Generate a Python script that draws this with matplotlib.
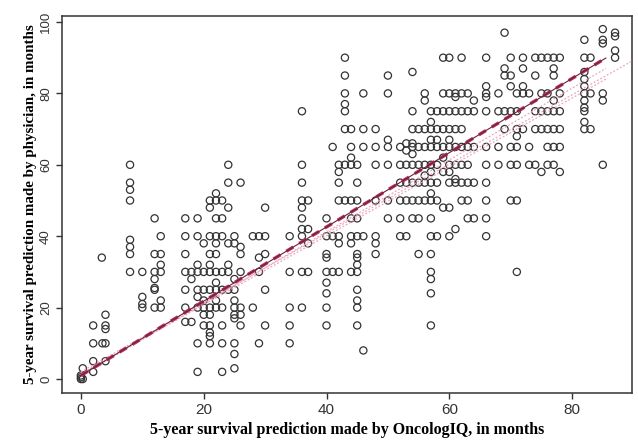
import matplotlib
matplotlib.use("Agg")
import matplotlib.pyplot as plt
import numpy as np

# OncologIQ prediction (x) vs physician prediction (y)
points = [
    (0, 0), (0, 0.5), (0, 1), (0.3, 3), (0.3, 0), (2, 2), (2, 5), (2, 10), (2, 15),
    (3.5, 10), (4, 10), (4, 14), (4, 15), (4, 18), (4, 5), (3.4, 34),
    (8, 60), (8, 55), (8, 53), (8, 50), (8, 39), (8, 37), (8, 35), (8, 30),
    (10, 30), (10, 23), (10, 21), (10, 20),
    (12, 45), (12, 35), (12, 30), (12, 28), (12, 25.5), (12, 25), (12, 20),
    (13, 40), (13, 35), (13, 32), (13, 30), (13, 20), (13, 22),
    (17, 45), (17, 40), (17, 35), (17, 30), (17, 25), (17, 20), (17, 16),
    (18, 28), (18, 16), (18, 30),
    (19, 45), (19, 40), (19, 32), (19, 30), (19, 25), (19, 23), (19, 20), (19, 10), (19, 2),
    (20, 38), (20, 30), (20, 25), (20, 22), (20, 20), (20, 18), (20, 15),
    (21, 50), (21, 48), (21, 40), (21, 35), (21, 32), (21, 30), (21, 25), (21, 20),
    (21, 18), (21, 15), (21, 13), (21, 12), (21, 10),
    (22, 52), (22, 50), (22, 45), (22, 40), (22, 38), (22, 35), (22, 30), (22, 27),
    (22, 25), (22, 22), (22, 20),
    (23, 50), (23, 45), (23, 40), (23, 30), (23, 25), (23, 20), (23, 15), (23, 10), (23, 2),
    (24, 60), (24, 55), (24, 48), (24, 38), (24, 32), (24, 30), (24, 25),
    (25, 40), (25, 38), (25, 28), (25, 25), (25, 22), (25, 20), (25, 18), (25, 17),
    (25, 10), (25, 7), (25, 3),
    (26, 55), (26, 37), (26, 35), (26, 30), (26, 20), (26, 18), (26, 15),
    (28, 40), (28, 20), (29, 40), (29, 34), (29, 30), (29, 10),
    (30, 40), (30, 48), (30, 35), (30, 25), (30, 15),
    (34, 40), (34, 30), (34, 20), (34, 15), (34, 10),
    (36, 75), (36, 60), (36, 55), (36, 48), (36, 45), (36, 42), (36, 40), (36, 30),
    (36, 20), (36, 50),
    (37, 50), (37, 42), (37, 30), (37, 38),
    (40, 45), (40, 40), (40, 35), (40, 34), (40, 30), (40, 24), (40, 20), (40, 15), (40, 27),
    (41, 65), (41, 40), (41, 30),
    (42, 60), (42, 58), (42, 55), (42, 50), (42, 40), (42, 38), (42, 30),
    (43, 90), (43, 85), (43, 80), (43, 77), (43, 75), (43, 70), (43, 60), (43, 50),
    (44, 70), (44, 65), (44, 62), (44, 60), (44, 50), (44, 40), (44, 38), (44, 30), (44, 45),
    (45, 60), (45, 55), (45, 50), (45, 45), (45, 40), (45, 35), (45, 34), (45, 30),
    (45, 25), (45, 22), (45, 15), (45, 32), (45, 20),
    (46, 80), (46, 70), (46, 8), (46, 65), (46, 40),
    (48, 70), (48, 65), (48, 50), (48, 40), (48, 38), (48, 35), (48, 60),
    (50, 85), (50, 80), (50, 67), (50, 65), (50, 60), (50, 50), (50, 45),
    (52, 60), (52, 55), (52, 50), (52, 45), (52, 40), (52, 65),
    (53, 64), (53, 60), (53, 55), (53, 50), (53, 40), (53, 66),
    (54, 86), (54, 75), (54, 70), (54, 66), (54, 65), (54, 63), (54, 60), (54, 55),
    (54, 50), (54, 45),
    (55, 60), (55, 55), (55, 50), (55, 45), (55, 35), (55, 65), (55, 70),
    (56, 80), (56, 78), (56, 70), (56, 65), (56, 60), (56, 57), (56, 55), (56, 50),
    (57, 75), (57, 72), (57, 70), (57, 67), (57, 65), (57, 60), (57, 58), (57, 55),
    (57, 52), (57, 50), (57, 45), (57, 40), (57, 35), (57, 30), (57, 28), (57, 24), (57, 15),
    (58, 75), (58, 70), (58, 67), (58, 60), (58, 55), (58, 50), (58, 40), (58, 65),
    (59, 80), (59, 70), (59, 62), (59, 58), (59, 48), (59, 90), (59, 75), (59, 65),
    (60, 90), (60, 80), (60, 70), (60, 67), (60, 60), (60, 58), (60, 55), (60, 48),
    (60, 40), (60, 75), (60, 65),
    (61, 79), (61, 75), (61, 70), (61, 60), (61, 56), (61, 55), (61, 42), (61, 65), (61, 80),
    (62, 90), (62, 80), (62, 70), (62, 60), (62, 55), (62, 50), (62, 75), (62, 65),
    (63, 75), (63, 65), (63, 60), (63, 55), (63, 50), (63, 45), (63, 80),
    (64, 78), (64, 75), (64, 65), (64, 55), (64, 45),
    (66, 90), (66, 82), (66, 80), (66, 79), (66, 75), (66, 65), (66, 60), (66, 55),
    (66, 50), (66, 45), (66, 40),
    (68, 80), (68, 75), (68, 65), (68, 60),
    (69, 97), (69, 87), (69, 85), (69, 75), (69, 70),
    (70, 90), (70, 85), (70, 82), (70, 75), (70, 65), (70, 60), (70, 50),
    (71, 80), (71, 75), (71, 70), (71, 68), (71, 65), (71, 60), (71, 50), (71, 30),
    (72, 90), (72, 87), (72, 82), (72, 80), (72, 70),
    (73, 80), (73, 65), (73, 60),
    (74, 90), (74, 85), (74, 75), (74, 70), (74, 60),
    (75, 90), (75, 80), (75, 75), (75, 70), (75, 58),
    (76, 90), (76, 80), (76, 75), (76, 70), (76, 65), (76, 60),
    (77, 90), (77, 87), (77, 85), (77, 78), (77, 75), (77, 70), (77, 65), (77, 60),
    (78, 90), (78, 80), (78, 75), (78, 70), (78, 65), (78, 58),
    (82, 95), (82, 90), (82, 86), (82, 84), (82, 82), (82, 80), (82, 78), (82, 76),
    (82, 75), (82, 72), (82, 70),
    (83, 90), (83, 70), (83, 80),
    (85, 98), (85, 95), (85, 94), (85, 80), (85, 78), (85, 60),
    (87, 97), (87, 96), (87, 92), (87, 90),
]
oncologiq = [p[0] for p in points]
physician = [p[1] for p in points]

# fitted line and the faint confidence lines
fit_x = [0, 85.5]
fit_y = [1.0, 89.9]
ci_lines = [([0, 85.5], [1.0, 87.0]), ([0, 85.5], [1.5, 84.0]), ([0, 90], [2.0, 89.3])]

fig = plt.figure(figsize=(6.38, 4.42), dpi=100)
ax = fig.add_axes([0.097, 0.111, 0.894, 0.853])

ax.scatter(oncologiq, physician, s=27, facecolors="none", edgecolors="#333333", linewidths=0.9, zorder=2)

for cx, cy in ci_lines:
    ax.plot(cx, cy, color="#eaa8b8", lw=0.9, ls=(0, (1.5, 1.5)), zorder=3)
ax.plot(fit_x, fit_y, color="#b5305e", lw=2.4, ls=(0, (2.5, 2)), zorder=4)
ax.plot(fit_x, fit_y, color="#6a2038", lw=0.8, zorder=5)

ax.set_xlim(-3.1, 89.8)
ax.set_ylim(-3.9, 101.7)
ax.set_xticks([0, 20, 40, 60, 80])
ax.set_yticks([0, 20, 40, 60, 80, 100])
ax.set_xticklabels(["0", "20", "40", "60", "80"], family="Liberation Sans", size=11)
ax.set_yticklabels(["0", "20", "40", "60", "80", "100"], family="Liberation Sans", size=9.5,
                   rotation=90, va="center")
ax.tick_params(direction="out", length=4, width=1, colors="#333333", pad=3)
for sp in ax.spines.values():
    sp.set_linewidth(1.1)
    sp.set_color("#333333")

ax.set_xlabel("5-year survival prediction made by OncologIQ, in months",
              family="Liberation Serif", weight="bold", size=11.5, labelpad=4)
ax.set_ylabel("5-year survival prediction made by physician, in months",
              family="Liberation Serif", weight="bold", size=10.8, labelpad=2)

fig.savefig("out.png", dpi=100)
